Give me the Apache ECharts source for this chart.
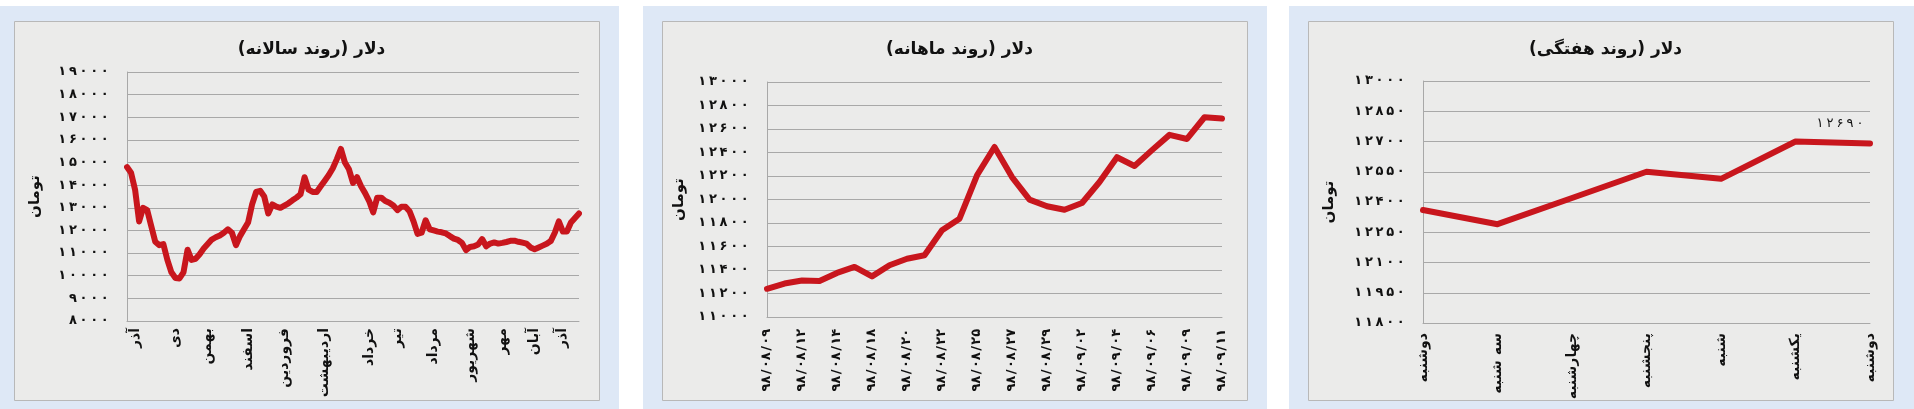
<!DOCTYPE html>
<html><head><meta charset="utf-8">
<script src="https://cdn.jsdelivr.net/npm/echarts@6/dist/echarts.min.js"></script>
<style>html,body{margin:0;padding:0;background:#fff;}#c{width:1914px;height:409px;}</style>
</head><body><div id="c"></div>
<script>
// ---------- Panel 1: yearly ----------
const yearTitle = 'دلار (روند سالانه)';
const yearMonths = ['آذر','دی','بهمن','اسفند','فروردین','اردیبهشت','خرداد','تیر','مرداد','شهریور','مهر','آبان','آذر'];
const yearMonthIdx = [2,12,20,30,39,49,60,67,76,85,93,101,108];
const yearValues = [
14800,14550,13800,12400,13000,12900,12200,11500,11350,11400,
10700,10150,9900,9880,10150,11150,10700,10750,10950,11200,
11400,11600,11700,11780,11900,12050,11900,11350,11750,12050,
12350,13150,13700,13750,13500,12750,13150,13050,13000,13100,
13200,13330,13450,13600,14350,13800,13700,13700,13950,14200,
14450,14750,15150,15600,15000,14700,14100,14350,13950,13650,
13300,12800,13450,13450,13300,13220,13100,12900,13050,13050,
12850,12400,11850,11900,12450,12050,12000,11950,11920,11870,
11750,11640,11580,11450,11130,11270,11300,11380,11620,11300,
11420,11470,11420,11450,11490,11540,11550,11500,11460,11420,
11250,11170,11250,11330,11410,11530,11900,12400,11950,11950,
12350,12550,12750];
const yearAxis = {min: 8000, max: 19000, interval: 1000};

// ---------- Panel 2: monthly ----------
const monthTitle = 'دلار (روند ماهانه)';
const monthDates = ['۹۸/۰۸/۰۹','۹۸/۰۸/۱۱','۹۸/۰۸/۱۲','۹۸/۰۸/۱۳','۹۸/۰۸/۱۴','۹۸/۰۸/۱۵','۹۸/۰۸/۱۸','۹۸/۰۸/۱۹','۹۸/۰۸/۲۰','۹۸/۰۸/۲۱','۹۸/۰۸/۲۲','۹۸/۰۸/۲۳','۹۸/۰۸/۲۵','۹۸/۰۸/۲۶','۹۸/۰۸/۲۷','۹۸/۰۸/۲۸','۹۸/۰۸/۲۹','۹۸/۰۹/۰۱','۹۸/۰۹/۰۲','۹۸/۰۹/۰۳','۹۸/۰۹/۰۴','۹۸/۰۹/۰۵','۹۸/۰۹/۰۶','۹۸/۰۹/۰۷','۹۸/۰۹/۰۹','۹۸/۰۹/۱۰','۹۸/۰۹/۱۱'];
const monthValues = [11240,11285,11310,11306,11375,11426,11346,11440,11496,11525,11738,11837,12206,12447,12191,11999,11942,11913,11970,12149,12360,12285,12420,12550,12515,12700,12690];
const monthAxis = {min: 11000, max: 13000, interval: 200};

// ---------- Panel 3: weekly ----------
const weekTitle = 'دلار (روند هفتگی)';
const weekDays = ['دوشنبه','سه شنبه','چهارشنبه','پنجشنبه','شنبه','یکشنبه','دوشنبه'];
const weekValues = [12360,12290,12420,12550,12515,12700,12690];
const weekAxis = {min: 11800, max: 13000, interval: 150};

const unitName = 'تومان';

// ---------- helpers ----------
const FA = '۰۱۲۳۴۵۶۷۸۹';
const toFa = v => String(v).replace(/[0-9]/g, d => FA[+d]);
const spaced = s => s.split('').map(c => '{d|' + c + '}').join('');
const RLM = '\u200F';
const FONT = 'DejaVu Sans';
const RED = '#c8161d';
const GRID_C = '#a8a8a8';

const yearCats = yearValues.map((_, i) => {
  const k = yearMonthIdx.indexOf(i);
  return k >= 0 ? yearMonths[k] : '';
});

const grids = [
  {left: 127, top: 72, width: 452, height: 249},
  {left: 767, top: 82, width: 455, height: 235},
  {left: 1423, top: 81, width: 447, height: 242}
];

function xAxis(gi, data, interval, margin, digits) {
  const lab = {rotate: 90, interval: interval, margin: margin, color: '#111',
    fontFamily: FONT, fontWeight: 'bold', fontSize: 14};
  if (digits) {
    lab.formatter = v => spaced(v);
    lab.rich = {d: {width: 7.8, align: 'center', fontFamily: FONT, fontWeight: 'bold', fontSize: 13, color: '#111'}};
  }
  return {
    type: 'category', gridIndex: gi, data: data, boundaryGap: false,
    axisTick: {show: false},
    axisLine: {show: true, lineStyle: {color: GRID_C, width: 1}},
    axisLabel: lab
  };
}
function yAxis(gi, ax, gap) {
  return {
    type: 'value', gridIndex: gi, min: ax.min, max: ax.max, interval: ax.interval,
    axisTick: {show: false},
    axisLine: {show: true, lineStyle: {color: GRID_C, width: 1}},
    splitLine: {show: true, lineStyle: {color: GRID_C, width: 1}},
    axisLabel: {margin: 17, color: '#111', formatter: v => spaced(toFa(v)),
      rich: {d: {width: 10.6, align: 'center', fontFamily: FONT, fontWeight: 'bold', fontSize: 13, color: '#111'}}},
    name: unitName, nameLocation: 'middle', nameRotate: 90, nameGap: gap,
    nameTextStyle: {color: '#111', fontFamily: FONT, fontWeight: 'bold', fontSize: 15}
  };
}
function lineSeries(i, data) {
  return {
    type: 'line', xAxisIndex: i, yAxisIndex: i, data: data,
    symbol: 'circle', symbolSize: 1, showSymbol: true, itemStyle: {color: RED},
    lineStyle: {color: RED, width: 6, cap: 'round', join: 'round'}, z: 5
  };
}

const bg = [];
[[0, 619, 14], [643, 624, 662], [1289, 625, 1308]].forEach(([x, w, gx]) => {
  bg.push({type: 'rect', z: -20, silent: true, shape: {x: x, y: 6, width: w, height: 403}, style: {fill: '#dee8f6'}});
  bg.push({type: 'rect', z: -19, silent: true, shape: {x: gx + 0.5, y: 21.5, width: 585, height: 379}, style: {fill: '#ebebea', stroke: '#b8b8b8', lineWidth: 1}});
});

const titles = [[yearTitle, 306.5], [monthTitle, 954.5], [weekTitle, 1600.5]].map(([t, cx]) => ({
  text: RLM + t + RLM, left: cx, top: 36, textAlign: 'center',
  textStyle: {fontFamily: FONT, fontWeight: 'bold', fontSize: 17, color: '#111'}
}));

const weekData = weekValues.map((v, i) => i === weekValues.length - 1 ?
  {value: v, label: {show: true, position: 'top', offset: [-30, -8],
    formatter: p => spaced(toFa(p.value)),
    rich: {d: {width: 10, align: 'center', fontFamily: FONT, fontSize: 13, color: '#111'}}}} : v);

const chart = echarts.init(document.getElementById('c'), null, {renderer: 'canvas'});
chart.setOption({
  animation: false,
  backgroundColor: '#ffffff',
  graphic: bg,
  title: titles,
  grid: grids,
  xAxis: [xAxis(0, yearCats, 0, 7, false), xAxis(1, monthDates, 1, 12, true), xAxis(2, weekDays, 0, 10, false)],
  yAxis: [yAxis(0, yearAxis, 84), yAxis(1, monthAxis, 80), yAxis(2, weekAxis, 86)],
  series: [
    lineSeries(0, yearValues),
    lineSeries(1, monthValues),
    lineSeries(2, weekData)
  ]
});
</script></body></html>
